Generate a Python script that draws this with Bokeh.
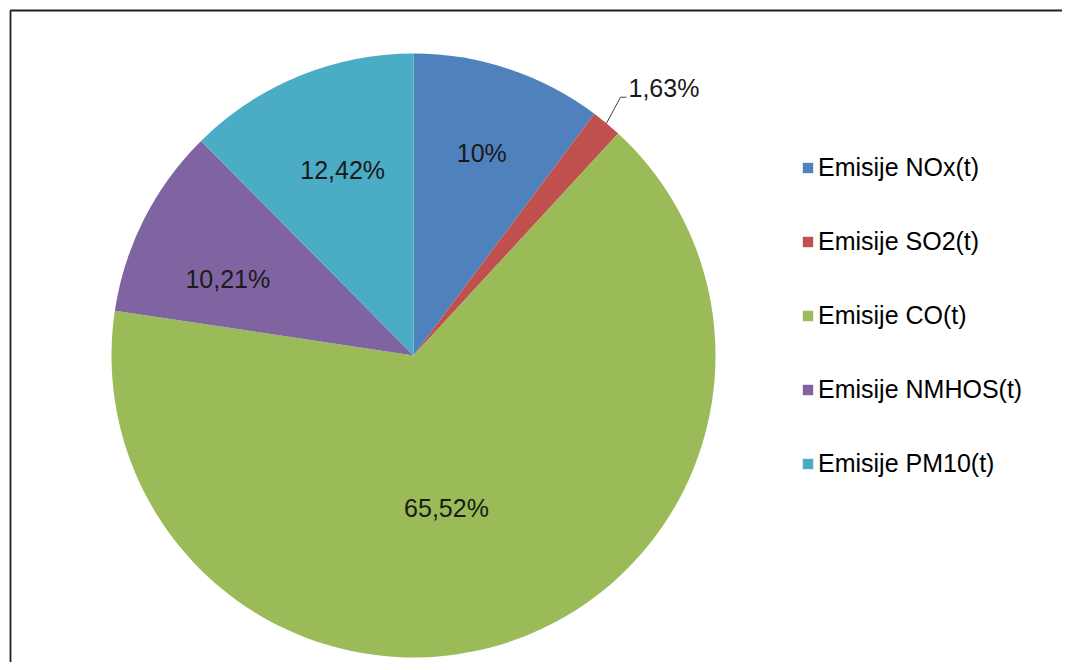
import math
from bokeh.plotting import figure
from bokeh.models import Range1d, Legend, LegendItem, ColumnDataSource
from bokeh.core.properties import value
from bokeh.embed import file_html
from bokeh.resources import INLINE

# ---- data ----
categories = ["Emisije NOx(t)", "Emisije SO2(t)", "Emisije CO(t)", "Emisije NMHOS(t)", "Emisije PM10(t)"]
shares = [10.22, 1.63, 65.52, 10.21, 12.42]
label_texts = ["10%", "1,63%", "65,52%", "10,21%", "12,42%"]
colors = ["#4F81BD", "#C0504D", "#9BBB59", "#8064A2", "#4BACC6"]

FONT = "Liberation Sans"
FRAME_W, FRAME_H = 1062, 662


def Y(py):
    return FRAME_H - py


p = figure(width=FRAME_W, height=FRAME_H, x_range=Range1d(0, FRAME_W), y_range=Range1d(0, FRAME_H),
           output_backend="svg", toolbar_location=None, min_border=0,
           x_axis_location=None, y_axis_location=None)
p.grid.visible = False
p.outline_line_color = None
p.background_fill_color = "white"
p.border_fill_color = "white"

# chart frame (top and left edges visible)
p.line([10, 10, FRAME_W + 10], [Y(FRAME_H + 10), Y(10), Y(10)],
       line_color="#202020", line_width=1.8)

cx, cy, R = 413, Y(355), 302
total = sum(shares)
starts, ends, mids = [], [], []
acc = 0.0
for s in shares:
    a0 = acc / total
    acc += s
    a1 = acc / total
    # clockwise from 12 o'clock
    starts.append(math.pi / 2 - 2 * math.pi * a1)
    ends.append(math.pi / 2 - 2 * math.pi * a0)
    mids.append(2 * math.pi * (a0 + a1) / 2)  # clockwise from top

src = ColumnDataSource(dict(cat=categories, start=starts, end=ends, color=colors,
                            x=[cx] * 5, y=[cy] * 5))
wedges = p.wedge(x="x", y="y", radius=R, start_angle="start", end_angle="end",
                 fill_color="color", line_color=None, source=src)

# data labels inside slices (radius / angle tweak as placed by the original)
lab_r = [214, None, 156, 201, 199]
lab_dt = [0.2, 0, 7.2, -4.4, 1.5]
lx, ly, lt = [], [], []
for i in range(5):
    if lab_r[i] is None:
        continue
    th = mids[i] + math.radians(lab_dt[i])
    lx.append(cx + lab_r[i] * math.sin(th))
    ly.append(cy + lab_r[i] * math.cos(th))
    lt.append(label_texts[i])
p.text(x=lx, y=ly, text=lt, text_font=value(FONT), text_font_size="25px",
       text_color="#1a1a1a", text_align="center", text_baseline="middle")

# SO2 label with leader line
th = mids[1]
sx, sy = cx + R * math.sin(th), cy + R * math.cos(th)
ex, ey = sx + 14, sy + 26
fx = ex + 6
p.line([sx, ex, fx], [sy, ey, ey], line_color="#404040", line_width=1)
p.text(x=[fx + 2], y=[ey + 9], text=[label_texts[1]], text_font=value(FONT), text_font_size="25px",
       text_color="#1a1a1a", text_align="left", text_baseline="middle")

legend = Legend(items=[LegendItem(label=categories[i], renderers=[wedges], index=i) for i in range(5)],
                location=(801, 184), orientation="vertical",
                glyph_width=13, glyph_height=13, label_standoff=4,
                label_text_font=FONT, label_text_font_size="25px", label_text_color="#000000",
                spacing=45, padding=0, margin=0,
                border_line_color=None, background_fill_alpha=0)
p.add_layout(legend, "center")

open("out.html", "w").write(file_html(p, INLINE))
